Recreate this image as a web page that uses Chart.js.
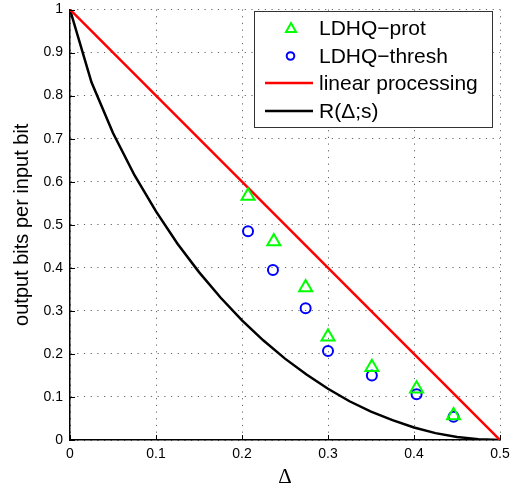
<!DOCTYPE html>
<html lang="en">
<head>
    <meta charset="UTF-8">
    <title>Output bits per input bit</title>
    <script src="https://cdn.jsdelivr.net/npm/chart.js"></script>
    <style>
        html, body { margin: 0; padding: 0; background: #fff; }
        #wrap { width: 514px; height: 490px; }
    </style>
</head>
<body>
    <div id="wrap"><canvas id="rateChart" width="514" height="490"></canvas></div>
    <script>
        // values
        const deltaProt   = [0.207, 0.237, 0.274, 0.300, 0.351, 0.403, 0.446];
        const rateProt    = [0.567, 0.461, 0.354, 0.240, 0.169, 0.119, 0.057];
        const deltaThresh = [0.207, 0.236, 0.274, 0.300, 0.351, 0.403, 0.446];
        const rateThresh  = [0.485, 0.395, 0.306, 0.207, 0.150, 0.106, 0.054];
        const deltaLinear = [0, 0.5];
        const rateLinear  = [1, 0];
        const deltaR = [0, 0.025, 0.05, 0.075, 0.1, 0.125, 0.15, 0.175, 0.2, 0.225, 0.25,
                        0.275, 0.3, 0.325, 0.35, 0.375, 0.4, 0.425, 0.45, 0.475, 0.5];
        const rateR  = [1.000, 0.831, 0.713, 0.615, 0.531, 0.456, 0.390, 0.331, 0.278, 0.231, 0.189,
                        0.152, 0.119, 0.090, 0.066, 0.046, 0.029, 0.016, 0.007, 0.002, 0.000];
        const seriesLabels = ['LDHQ\u2212prot', 'LDHQ\u2212thresh', 'linear processing', 'R(\u0394;s)'];
        const xTickLabels = ['0', '0.1', '0.2', '0.3', '0.4', '0.5'];
        const yTickLabels = ['0', '0.1', '0.2', '0.3', '0.4', '0.5', '0.6', '0.7', '0.8', '0.9', '1'];

        const pts = (xs, ys) => xs.map((x, i) => ({ x: x, y: ys[i] }));
        const sans = '"Liberation Sans", Arial, sans-serif';

        // MATLAB style ticks pointing into the axes
        const innerTicks = {
            id: 'innerTicks',
            afterDatasetsDraw(chart) {
                const { ctx, chartArea: a, scales: { x, y } } = chart;
                ctx.save();
                ctx.strokeStyle = '#000';
                ctx.lineWidth = 1;
                ctx.beginPath();
                x.ticks.forEach(t => {
                    const px = Math.round(x.getPixelForValue(t.value)) + 0.5;
                    ctx.moveTo(px, a.bottom); ctx.lineTo(px, a.bottom - 5);
                });
                y.ticks.forEach(t => {
                    const py = Math.round(y.getPixelForValue(t.value)) + 0.5;
                    ctx.moveTo(a.left, py); ctx.lineTo(a.left + 5, py);
                });
                ctx.stroke();
                ctx.restore();
            }
        };

        // boxed legend in the upper right corner
        const boxLegend = {
            id: 'boxLegend',
            afterDraw(chart) {
                const ctx = chart.ctx;
                const bx = 254, by = 11, bw = 238, bh = 116;
                const rows = [28, 56, 83, 111];
                ctx.save();
                ctx.fillStyle = '#fff';
                ctx.fillRect(bx, by, bw, bh);
                ctx.strokeStyle = '#333';
                ctx.lineWidth = 1;
                ctx.strokeRect(bx + 0.5, by + 0.5, bw, bh);
                chart.data.datasets.forEach((ds, i) => {
                    const cy = rows[i];
                    ctx.strokeStyle = ds.borderColor;
                    if (ds.showLine) {
                        ctx.lineWidth = ds.borderWidth;
                        ctx.beginPath();
                        ctx.moveTo(265, cy); ctx.lineTo(313, cy);
                        ctx.stroke();
                    } else {
                        ctx.lineWidth = 2;
                        ctx.beginPath();
                        if (ds.pointStyle === 'triangle') {
                            ctx.moveTo(291, cy - 5); ctx.lineTo(296, cy + 4); ctx.lineTo(286, cy + 4);
                            ctx.closePath();
                        } else {
                            ctx.arc(290.5, cy, 3.8, 0, Math.PI * 2);
                        }
                        ctx.stroke();
                    }
                    ctx.fillStyle = '#000';
                    ctx.font = '21px ' + sans;
                    ctx.textBaseline = 'middle';
                    ctx.fillText(ds.label, 319, cy + 1);
                });
                ctx.restore();
            }
        };

        const grid = {
            color: '#666',
            lineWidth: 1,
            drawTicks: false
        };
        // in v4 the grid-line dash comes from border.dash; the axis line itself stays solid
        const axisBorder = { display: true, color: '#000', width: 1.5, dash: [1.2, 5.5] };

        const chart = new Chart(document.getElementById('rateChart'), {
            type: 'scatter',
            data: {
                datasets: [{
                    label: seriesLabels[0],
                    data: pts(deltaProt, rateProt),
                    pointStyle: 'triangle',
                    pointRadius: 7.5,
                    borderColor: '#00ff00',
                    backgroundColor: 'rgba(0,0,0,0)',
                    pointBorderWidth: 2,
                    showLine: false
                }, {
                    label: seriesLabels[1],
                    data: pts(deltaThresh, rateThresh),
                    pointStyle: 'circle',
                    pointRadius: 5,
                    borderColor: '#0000ff',
                    backgroundColor: 'rgba(0,0,0,0)',
                    pointBorderWidth: 2,
                    showLine: false
                }, {
                    label: seriesLabels[2],
                    data: pts(deltaLinear, rateLinear),
                    borderColor: '#ff0000',
                    borderWidth: 2.5,
                    pointRadius: 0,
                    showLine: true
                }, {
                    label: seriesLabels[3],
                    data: pts(deltaR, rateR),
                    borderColor: '#000000',
                    borderWidth: 2.5,
                    pointRadius: 0,
                    showLine: true
                }]
            },
            options: {
                responsive: false,
                animation: false,
                layout: { padding: { top: 3, right: 14, left: 0, bottom: 0 } },
                plugins: {
                    legend: { display: false },
                    tooltip: { enabled: false }
                },
                scales: {
                    x: {
                        type: 'linear',
                        min: 0, max: 0.5,
                        grid: grid,
                        border: axisBorder,
                        ticks: {
                            stepSize: 0.1,
                            padding: 6,
                            color: '#000',
                            font: { family: sans, size: 14 },
                            maxRotation: 0,
                            callback: (v, i) => xTickLabels[i]
                        },
                        title: {
                            display: true,
                            text: '\u0394',
                            color: '#000',
                            font: { family: '"Liberation Serif", "Times New Roman", serif', size: 21 },
                            padding: { top: 0, bottom: 0 }
                        },
                        afterFit(s) { s.height = 50; s.paddingLeft = 0; s.paddingRight = 0; }
                    },
                    y: {
                        min: 0, max: 1,
                        grid: grid,
                        border: axisBorder,
                        ticks: {
                            stepSize: 0.1,
                            padding: 7,
                            color: '#000',
                            font: { family: sans, size: 14 },
                            callback: (v, i) => yTickLabels[i]
                        },
                        title: {
                            display: true,
                            text: 'output bits per input bit',
                            color: '#000',
                            font: { family: sans, size: 20 },
                            padding: { top: 10, bottom: 0 }
                        },
                        afterFit(s) { s.width = 70; s.paddingTop = 0; s.paddingBottom = 0; }
                    }
                }
            },
            plugins: [innerTicks, boxLegend]
        });
    </script>
</body>
</html>
